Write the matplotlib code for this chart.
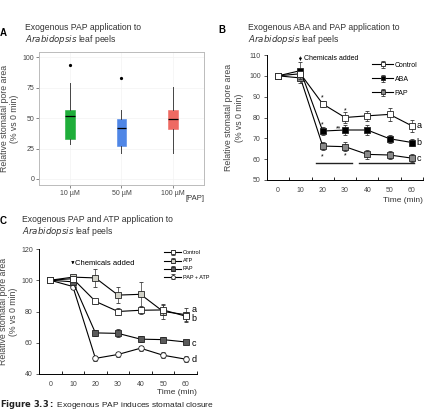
import numpy as np
import matplotlib
matplotlib.use("Agg")
import matplotlib.pyplot as plt

plt.rcParams['font.family'] = ['Liberation Sans', 'DejaVu Sans']

# ---- data ----
# panel A: box summary (whislo, q1, med, q3, whishi, outliers)
conc_labels = ["10 µM", "50 µM", "100 µM"]
box_lo = [29, 21, 21]
box_q1 = [33, 27, 41]
box_med = [52, 42, 49]
box_q3 = [57, 49, 57]
box_hi = [79, 57, 76]
box_out = [[94], [83], []]
box_colors = ["#1fae3a", "#4f86e6", "#ee6a62"]

time = [0, 10, 20, 30, 40, 50, 60]

# panel B
b_control = [100, 101, 86.5, 80, 80.8, 81.5, 76]
b_control_err = [0.5, 1.5, 1.5, 2.5, 2.5, 3.2, 3]
b_aba = [100, 102.5, 73.5, 74, 74, 69.8, 68]
b_aba_err = [0.5, 4, 2, 2.5, 2.5, 2, 1.5]
b_pap = [100, 99, 66.3, 66, 62.3, 62, 60.5]
b_pap_err = [0.5, 2.5, 2, 2.2, 2, 2, 2]

# panel C
c_control = [100, 101, 86.5, 80, 80.8, 81, 77]
c_control_err = [0.5, 1.5, 1.5, 2.5, 2.5, 3, 3]
c_atp = [100, 102, 101.5, 90.5, 91, 80, 78]
c_atp_err = [0.5, 1, 6, 5, 8, 5, 4.5]
c_pap = [100, 99, 66.3, 66, 62.3, 62, 60.5]
c_pap_err = [0.5, 1.5, 2, 2.5, 2, 1.5, 1.5]
c_papatp = [100, 96, 50, 52.5, 56.5, 52, 49.5]
c_papatp_err = [0.5, 1.5, 1.5, 1.5, 1.5, 2, 2]

W, H = 427, 412
fig = plt.figure(figsize=(W / 100, H / 100), dpi=100)


def px_axes(l, t, r, b):
    return fig.add_axes([l / W, 1 - b / H, (r - l) / W, (b - t) / H])


def ftext(x, y, s, **kw):
    fig.text(x / W, 1 - y / H, s, **kw)


ylab = "Relative stomatal pore area\n(% vs 0 min)"

# ---------------- Panel A ----------------
axA = px_axes(39, 52, 204, 185)
stats = []
for i in range(3):
    stats.append(dict(whislo=box_lo[i], q1=box_q1[i], med=box_med[i],
                      q3=box_q3[i], whishi=box_hi[i], fliers=box_out[i]))
bp = axA.bxp(stats, positions=[1, 2, 3], widths=0.18, patch_artist=True,
             showcaps=False,
             medianprops=dict(color="black", lw=0.9),
             whiskerprops=dict(color="#444444", lw=0.7),
             boxprops=dict(lw=0.4),
             flierprops=dict(marker="o", markersize=1.3, markerfacecolor="black",
                             markeredgecolor="black"))
for patch, c in zip(bp["boxes"], box_colors):
    patch.set_facecolor(c)
    patch.set_edgecolor(c)
axA.set_xlim(0.4, 3.6)
axA.set_ylim(-5, 104.4)
axA.set_yticks([0, 25, 50, 75, 100])
axA.set_xticks([1, 2, 3])
axA.set_xticklabels(conc_labels)
axA.grid(color="#f3f3f3", lw=0.5)
axA.set_axisbelow(True)
for s in axA.spines.values():
    s.set_color("#bbbbbb")
    s.set_linewidth(0.7)
axA.tick_params(labelsize=5, colors="#555555", length=2, width=0.5, pad=1.5)
for lab in axA.get_xticklabels() + axA.get_yticklabels():
    lab.set_color("#444444")
axA.set_ylabel(ylab, fontsize=6.3, color="#444444", labelpad=2.5, linespacing=1.2)
ftext(0, 33, "A", fontsize=7, fontweight="bold", va="center")
ftext(25, 27, "Exogenous PAP application to", fontsize=6.2, va="center", color="#333333")
ftext(25, 40, "$\\it{Arabidopsis}$ leaf peels", fontsize=6.2, va="center", color="#333333")
ftext(205, 199, "[PAP]", fontsize=5.5, ha="right", va="center", color="#333333")


def time_axes(ax, ylim, yticks):
    ax.set_xlim(-5, 65)
    ax.set_ylim(*ylim)
    ax.set_yticks(yticks)
    ax.set_xticks(np.arange(-5, 66, 10))
    ax.set_xticklabels([])
    ax.set_xticks(time, minor=True)
    ax.set_xticklabels([str(t) for t in time], minor=True)
    ax.tick_params(axis="x", which="minor", length=0, labelsize=5, pad=5, colors="#444444")
    ax.tick_params(axis="x", which="major", length=2.5, width=0.6, direction="in")
    ax.tick_params(axis="y", length=2.5, width=0.6, labelsize=5, colors="#444444", pad=2)
    for sp in ["top", "right"]:
        ax.spines[sp].set_visible(False)
    for sp in ["left", "bottom"]:
        ax.spines[sp].set_linewidth(0.7)


def series(ax, y, e, fc, marker, label, ms=4.0, z=3):
    return ax.errorbar(time, y, yerr=e, color="black", lw=0.8, marker=marker, ms=ms,
                       mfc=fc, mec="#222222", mew=0.6, ecolor="#333333", elinewidth=0.5,
                       capsize=1.5, capthick=0.5, label=label, zorder=z)


# ---------------- Panel B ----------------
axB = px_axes(267, 55, 423, 180)
time_axes(axB, (50, 110), np.arange(50, 111, 10))
hB_pap = series(axB, b_pap, b_pap_err, "#8a8a8a", "s", "PAP", z=3)
hB_aba = series(axB, b_aba, b_aba_err, "black", "s", "ABA", z=4)
hB_ctl = series(axB, b_control, b_control_err, "white", "s", "Control", z=5)
axB.plot([17, 33], [58, 58], color="#222222", lw=1)
axB.plot([36.5, 61], [58, 58], color="#222222", lw=1)
star_x = [20, 30, 20, 27.3, 20, 30]
star_y = [89.3, 83, 76.5, 74.3, 61.3, 61.8]
star_s = ["*", "*", "*", "**", "*", "*"]
for x, y, s in zip(star_x, star_y, star_s):
    axB.text(x, y, s, fontsize=5, ha="center", va="center")
for x, y, s in zip([62, 62, 62], [76, 68, 60.5], ["a", "b", "c"]):
    axB.text(x, y, s, fontsize=6.5, ha="left", va="center")
axB.annotate("", xy=(10, 105.8), xytext=(10, 110.5),
             arrowprops=dict(arrowstyle="-|>", lw=0.5, color="black",
                             mutation_scale=4), annotation_clip=False)
axB.text(11.5, 108.2, "Chemicals added", fontsize=5, va="center")
axB.legend([hB_ctl, hB_aba, hB_pap], ["Control", "ABA", "PAP"],
           loc="upper right", bbox_to_anchor=(1.0, 0.99), fontsize=5, frameon=False,
           handlelength=3.0, handletextpad=0.2, labelspacing=1.0, borderpad=0.3,
           markerscale=0.8)
axB.set_ylabel(ylab, fontsize=6.3, color="#444444", labelpad=4, linespacing=1.2)
ftext(218, 30, "B", fontsize=7, fontweight="bold", va="center")
ftext(248, 27, "Exogenous ABA and PAP application to", fontsize=6.2, va="center", color="#333333")
ftext(248, 40, "$\\it{Arabidopsis}$ leaf peels", fontsize=6.2, va="center", color="#333333")
ftext(423, 201, "Time (min)", fontsize=6, ha="right", va="center", color="#333333")

# ---------------- Panel C ----------------
axC = px_axes(39, 249, 197, 374)
time_axes(axC, (40, 120), np.arange(40, 121, 20))
hC_pa = series(axC, c_papatp, c_papatp_err, "white", "o", "PAP + ATP", z=3)
hC_pap = series(axC, c_pap, c_pap_err, "#5a5a5a", "s", "PAP", z=4)
hC_atp = series(axC, c_atp, c_atp_err, "#d2d2c8", "s", "ATP", z=5)
hC_ctl = series(axC, c_control, c_control_err, "white", "s", "Control", z=6)
axC.legend([hC_ctl, hC_atp, hC_pap, hC_pa], ["Control", "ATP", "PAP", "PAP + ATP"],
           loc="upper right", bbox_to_anchor=(1.1, 1.02), fontsize=4, frameon=False,
           handlelength=3.2, handletextpad=0.2, labelspacing=0.55, borderpad=0.2,
           markerscale=0.7)
for x, y, s in zip([62.5, 62.5, 62.5, 62.5], [81, 75.6, 59.6, 49.4], ["a", "b", "c", "d"]):
    axC.text(x, y, s, fontsize=6.5, ha="left", va="center")
axC.annotate("", xy=(10, 108.4), xytext=(10, 113.5),
             arrowprops=dict(arrowstyle="-|>", lw=0.5, color="black",
                             mutation_scale=4), annotation_clip=False)
axC.text(11.1, 110.6, "Chemicals added", fontsize=5.5, va="center")
axC.set_ylabel(ylab, fontsize=6.3, color="#444444", labelpad=2, linespacing=1.2)
ftext(0, 221, "C", fontsize=7, fontweight="bold", va="center")
ftext(22, 220, "Exogenous PAP and ATP application to", fontsize=6.2, va="center", color="#333333")
ftext(22, 232, "$\\it{Arabidopsis}$ leaf peels", fontsize=6.2, va="center", color="#333333")
ftext(197, 393, "Time (min)", fontsize=6, ha="right", va="center", color="#333333")

ftext(0, 411, "$\\bf{Figure\\ 3.3:}$ Exogenous PAP induces stomatal closure", fontsize=6,
      va="bottom", color="#222222")

fig.savefig("out.png", dpi=100)
